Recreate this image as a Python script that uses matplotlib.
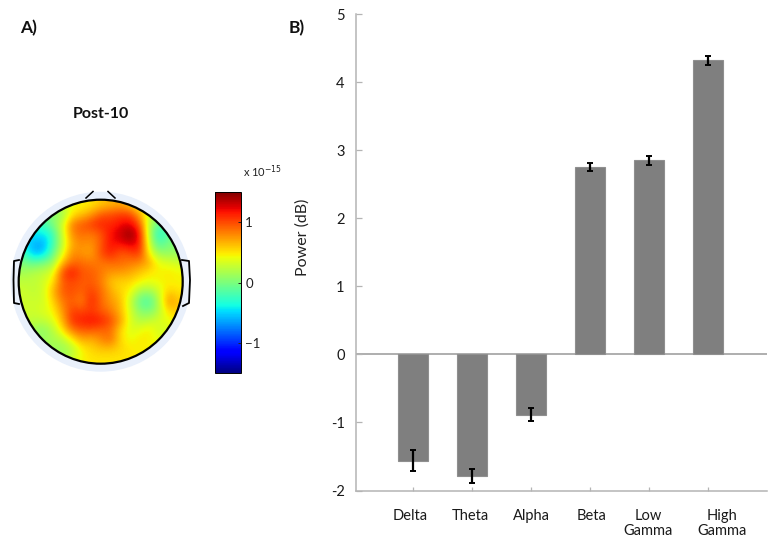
import numpy as np
import matplotlib
matplotlib.use("Agg")
import matplotlib.pyplot as plt
from matplotlib.patches import Circle
from matplotlib.transforms import ScaledTranslation

# Panel B data
bands = ["Delta", "Theta", "Alpha", "Beta", "Low\nGamma", "High\nGamma"]
power = [-1.56, -1.79, -0.885, 2.75, 2.85, 4.32]
power_err = [0.15, 0.10, 0.10, 0.055, 0.065, 0.065]
power_ticks = [-2, -1, 0, 1, 2, 3, 4, 5]
label_shift_px = [-3, -2, 0, 1, -1, 14]

# Panel A data: coarse reading of the scalp map (x 1e-15), rows top to bottom
N = np.nan
row00 = [N, N, N, N, N, N, .45, .5, .6, .65, .7, .6, .4, N, N, N, N]
row01 = [N, N, N, N, .1, .5, .6, .75, .95, 1.0, 1.05, 1.05, .7, .3, N, N, N]
row02 = [N, N, -.2, 0, .3, .85, .95, 1.05, 1.15, 1.1, 1.2, 1.25, 1.0, .2, -.1, N, N]
row03 = [N, -.4, -.45, -.25, .3, .8, .9, .85, .95, 1.2, 1.3, 1.5, 1.2, .2, -.35, -.1, N]
row04 = [N, -.6, -.65, -.25, .25, .7, .8, .75, .95, 1.2, 1.2, 1.3, 1.2, .3, -.2, 0, N]
row05 = [-.2, -.6, -.55, -.1, .35, .8, .75, .7, 1.0, 1.15, .95, 1.0, 1.1, .45, .1, .1, .1]
row06 = [0, -.1, 0, .1, .65, .9, .9, .85, .85, .9, .9, .85, .8, .7, .4, .35, .3]
row07 = [.15, .2, .25, .35, 1.0, 1.2, .95, .95, .85, .75, .75, .7, .6, .5, .45, .5, .45]
row08 = [.25, .25, .3, .5, .95, 1.0, .95, .95, .85, .6, .55, .55, .45, .4, .45, .45, .45]
row09 = [.3, .25, .3, .65, .95, 1.0, .9, 1.05, .9, .7, .55, .45, .15, .1, .3, .6, .5]
row10 = [.3, .3, .3, .55, .85, .95, .8, 1.15, .9, .75, .65, .3, -.1, -.2, .2, .8, .6]
row11 = [N, .3, .35, .45, .75, 1.05, 1.0, 1.05, .95, .85, .65, .35, .05, 0, .2, .55, N]
row12 = [N, N, .25, .35, .65, 1.1, 1.15, 1.2, 1.15, 1.0, .75, .35, .2, .25, .35, .4, N]
row13 = [N, N, .05, .2, .5, .85, .95, .95, .9, .9, .55, .35, .4, .5, .3, N, N]
row14 = [N, N, N, .15, .2, .45, .7, .65, .8, .9, .55, .4, .5, .45, N, N, N]
row15 = [N, N, N, N, .1, .2, .45, .55, .6, .6, .55, .5, .45, N, N, N, N]
row16 = [N, N, N, N, N, N, .45, .5, .5, .5, .5, N, N, N, N, N, N]
scalp_rows = [row00, row01, row02, row03, row04, row05, row06, row07, row08,
              row09, row10, row11, row12, row13, row14, row15, row16]
cbar_ticks = [-1, 0, 1]
cbar_limit = 1.513

W, H = 768, 541
plt.rcParams["font.family"] = ["Lato", "DejaVu Sans"]
fig = plt.figure(figsize=(W / 100, H / 100), dpi=100, facecolor="white")


def px_axes(x0, y0, x1, y1, **kw):
    return fig.add_axes([x0 / W, 1 - y1 / H, (x1 - x0) / W, (y1 - y0) / H], **kw)


# Panel A: scalp map
cx, cy, r = 100.7, 281.7, 82.0
ax_map = px_axes(0, 180, 205, 385)
ax_map.set_xlim(0, 205)
ax_map.set_ylim(385, 180)
ax_map.axis("off")
ax_map.add_patch(Circle((cx, cy), 90, fc="#e9f0fb", ec="none", zorder=1))

grid = np.array(scalp_rows, dtype=float)
# outside-the-head cells only stabilise the interpolation near the rim
while np.isnan(grid).any():
    filled = grid.copy()
    for i, j in zip(*np.where(np.isnan(grid))):
        near = grid[max(i - 1, 0):i + 2, max(j - 1, 0):j + 2]
        if np.isfinite(near).any():
            filled[i, j] = np.nanmean(near)
    grid = filled

im = ax_map.imshow(grid, cmap="jet", vmin=-cbar_limit, vmax=cbar_limit,
                   interpolation="bicubic", aspect="auto", zorder=2,
                   extent=(cx - r, cx + r, cy + r, cy - r))
im.set_clip_path(Circle((cx, cy), r, transform=ax_map.transData))
ax_map.set_xlim(0, 205)
ax_map.set_ylim(385, 180)
ax_map.add_patch(Circle((cx, cy), r, fc="none", ec="black", lw=1.6, zorder=4))
# nose
ax_map.plot([86, 93], [198, 191.5], color="black", lw=1.1, zorder=3)
ax_map.plot([108, 115], [191.5, 198], color="black", lw=1.1, zorder=3)
# ears
ax_map.plot([19, 14, 13.5, 14, 19], [260, 261, 280, 303, 304], color="black", lw=1.3, zorder=3)
ax_map.plot([182, 189, 190, 189, 183], [260, 261, 280, 303, 306], color="black", lw=1.3, zorder=3)

cax = px_axes(215, 191.7, 241, 373.3)
cb = fig.colorbar(im, cax=cax, ticks=cbar_ticks)
cb.ax.set_yticklabels(["\u22121", "0", "1"], fontsize=9.5, color="#222222")
cb.ax.tick_params(direction="in", length=2, width=0.7, pad=3, colors="#222222")
cb.outline.set_linewidth(0.7)

fig.text(243 / W, 1 - 172 / H, "x 10$^{-15}$", fontsize=8, color="#222222", va="center", ha="left",
         math_fontfamily="dejavusans")
fig.text(101 / W, 1 - 114 / H, "Post-10", fontsize=11.5, fontweight="bold", color="#111111",
         ha="center", va="center")
fig.text(20 / W, 1 - 28 / H, "A)", fontsize=12.5, fontweight="bold", color="#111111", va="center")
fig.text(289 / W, 1 - 28 / H, "B)", fontsize=12.5, fontweight="bold", color="#111111", va="center")

# Panel B: bars
ax = px_axes(355.7, 14, 767, 490.5)
ax.set_facecolor("none")
positions = list(range(1, len(bands) + 1))
ax.axhline(0, color="#a8a8a8", lw=1.3, zorder=1)
ax.bar(positions, power, width=0.51, color="#7f7f7f", edgecolor="#8f8f8f", lw=0.8, zorder=2)
ax.errorbar(positions, power, yerr=power_err, fmt="none", ecolor="black",
            elinewidth=1.6, capsize=2, capthick=1.4, zorder=3)
ax.set_xlim(0.025, 7.0)
ax.set_ylim(-2, 5)
ax.set_yticks(power_ticks)
ax.set_yticklabels([str(t).replace("-", "-") for t in power_ticks])
ax.set_xticks(positions)
ax.set_xticklabels(bands, linespacing=1.15)
for spine in ("top", "right"):
    ax.spines[spine].set_visible(False)
for spine in ("left", "bottom"):
    ax.spines[spine].set_color("#b4b4b4")
    ax.spines[spine].set_linewidth(1.1)
ax.tick_params(axis="y", direction="in", length=4, width=0.9, color="#b4b4b4",
               labelsize=10.5, labelcolor="#1a1a1a", pad=8)
ax.tick_params(axis="x", direction="in", length=3, width=0.9, color="#b4b4b4",
               labelsize=10.5, labelcolor="#1a1a1a", pad=13)
for lab, dx in zip(ax.get_xticklabels(), label_shift_px):
    lab.set_transform(lab.get_transform() + ScaledTranslation(dx / 100, 0, fig.dpi_scale_trans))
ax.set_ylabel("Power (dB)", fontsize=11.5, color="#222222")
ax.yaxis.set_label_coords((310 - 355.7) / (767 - 355.7), (490.5 - 237) / (490.5 - 14))

fig.savefig("out.png", dpi=100, facecolor="white")
